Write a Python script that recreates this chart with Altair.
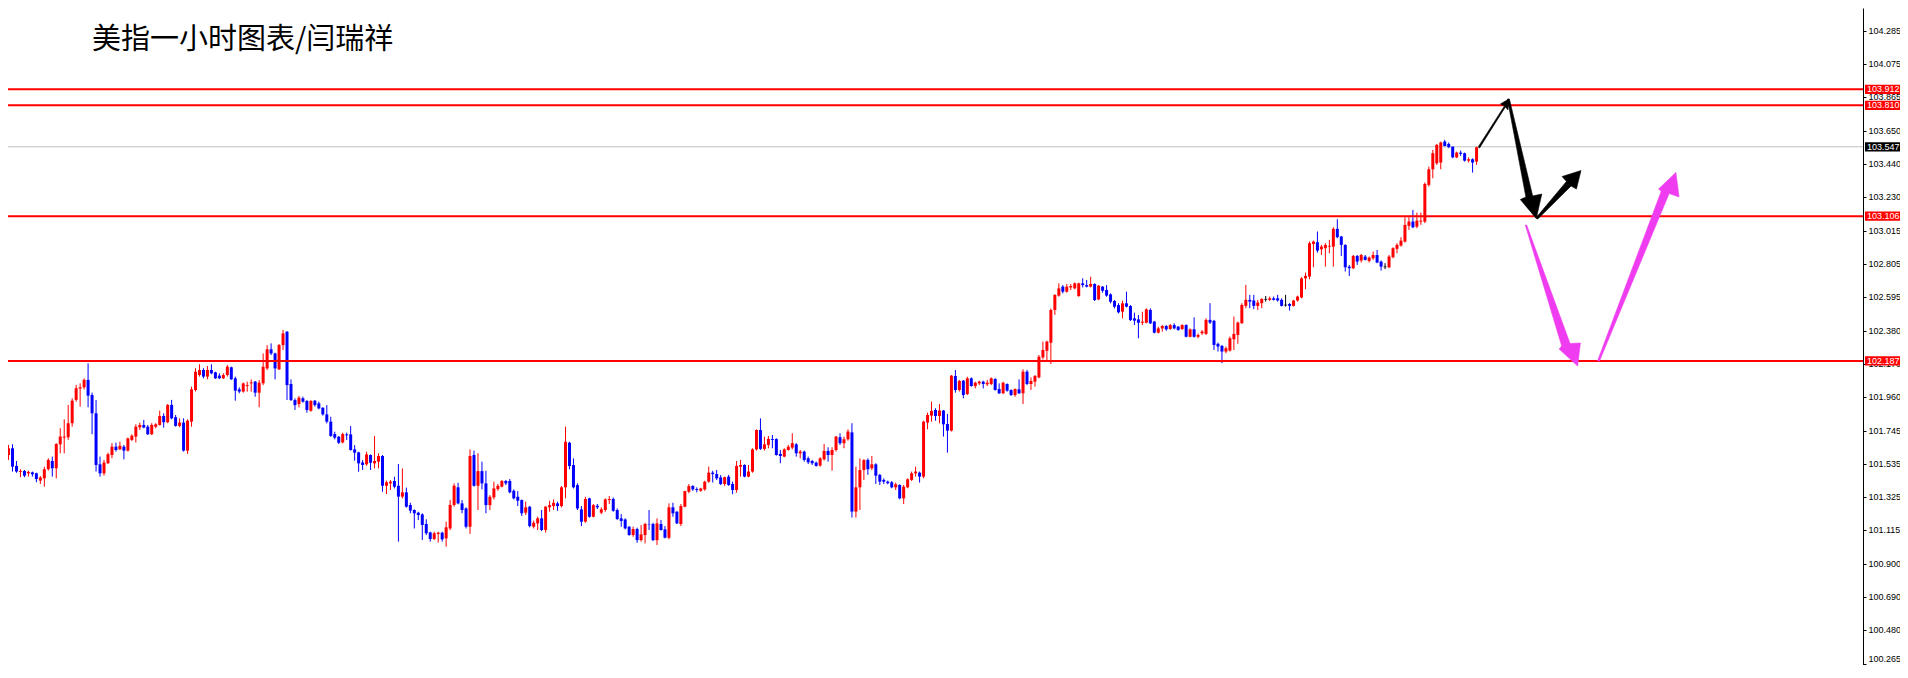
import altair as alt
import pandas as pd

# ---------------- candle data (hourly OHLC) ----------------
OPEN = [
    101.590, 101.633, 101.521, 101.483, 101.489, 101.474, 101.480, 101.474, 101.428, 101.442,
    101.500, 101.552, 101.506, 101.658, 101.701, 101.703, 101.792, 101.940, 102.012, 102.020,
    102.067, 101.971, 101.855, 101.531, 101.474, 101.538, 101.590, 101.643, 101.626, 101.643,
    101.618, 101.686, 101.707, 101.766, 101.781, 101.770, 101.722, 101.770, 101.781, 101.838,
    101.798, 101.908, 101.830, 101.775, 101.796, 101.618, 101.802, 102.003, 102.098, 102.130,
    102.088, 102.130, 102.115, 102.094, 102.077, 102.098, 102.147, 102.077, 102.007, 101.993,
    102.028, 102.045, 102.056, 101.986, 102.045, 102.140, 102.261, 102.235, 102.134, 102.288,
    102.373, 102.041, 101.939, 101.914, 101.950, 101.933, 101.871, 101.935, 101.918, 101.890,
    101.848, 101.802, 101.723, 101.706, 101.670, 101.721, 101.721, 101.626, 101.607, 101.543,
    101.531, 101.590, 101.537, 101.548, 101.584, 101.395, 101.410, 101.425, 101.395, 101.326,
    101.353, 101.273, 101.241, 101.224, 101.213, 101.152, 101.099, 101.057, 101.089, 101.097,
    101.061, 101.124, 101.273, 101.385, 101.283, 101.251, 101.135, 101.590, 101.395, 101.488,
    101.410, 101.272, 101.321, 101.374, 101.389, 101.425, 101.425, 101.363, 101.325, 101.304,
    101.224, 101.262, 101.135, 101.156, 101.188, 101.114, 101.258, 101.266, 101.283, 101.266,
    101.385, 101.668, 101.526, 101.399, 101.245, 101.167, 101.315, 101.198, 101.268, 101.224,
    101.241, 101.304, 101.311, 101.241, 101.188, 101.181, 101.135, 101.082, 101.120, 101.050,
    101.082, 101.152, 101.152, 101.050, 101.152, 101.118, 101.065, 101.258, 101.230, 101.152,
    101.262, 101.357, 101.393, 101.374, 101.363, 101.372, 101.421, 101.478, 101.469, 101.448,
    101.406, 101.453, 101.406, 101.368, 101.516, 101.527, 101.453, 101.485, 101.626, 101.749,
    101.629, 101.654, 101.692, 101.692, 101.597, 101.580, 101.622, 101.637, 101.658, 101.601,
    101.612, 101.569, 101.552, 101.542, 101.523, 101.563, 101.616, 101.590, 101.622, 101.703,
    101.665, 101.690, 101.734, 101.231, 101.385, 101.495, 101.559, 101.506, 101.531, 101.464,
    101.432, 101.421, 101.417, 101.385, 101.400, 101.315, 101.385, 101.432, 101.474, 101.478,
    101.453, 101.796, 101.840, 101.876, 101.838, 101.872, 101.787, 101.745, 102.092, 102.003,
    102.062, 101.977, 102.077, 102.028, 102.045, 102.056, 102.039, 102.041, 102.073, 102.009,
    101.982, 102.041, 102.003, 101.971, 102.007, 101.982, 102.119, 102.041, 102.056, 102.083,
    102.210, 102.252, 102.303, 102.511, 102.602, 102.659, 102.627, 102.654, 102.648, 102.599,
    102.680, 102.669, 102.659, 102.676, 102.578, 102.659, 102.638, 102.610, 102.568, 102.542,
    102.500, 102.553, 102.536, 102.458, 102.451, 102.430, 102.430, 102.511, 102.437, 102.367,
    102.394, 102.409, 102.390, 102.415, 102.405, 102.390, 102.415, 102.341, 102.388, 102.341,
    102.363, 102.359, 102.448, 102.442, 102.296, 102.283, 102.247, 102.253, 102.325, 102.353,
    102.427, 102.537, 102.575, 102.571, 102.537, 102.554, 102.578, 102.575, 102.585, 102.585,
    102.575, 102.542, 102.549, 102.537, 102.571, 102.590, 102.712, 102.723, 102.930, 102.941,
    102.896, 102.903, 102.913, 102.913, 103.026, 102.977, 102.924, 102.786, 102.776, 102.854,
    102.825, 102.850, 102.822, 102.839, 102.860, 102.818, 102.785, 102.782, 102.846, 102.899,
    102.920, 102.945, 103.045, 103.072, 103.040, 103.072, 103.072, 103.305, 103.404, 103.442,
    103.447, 103.580, 103.565, 103.548, 103.480, 103.510, 103.506, 103.459, 103.468, 103.453,
]
HIGH = [
    101.654, 101.658, 101.552, 101.500, 101.495, 101.491, 101.485, 101.478, 101.457, 101.516,
    101.569, 101.580, 101.665, 101.760, 101.817, 101.908, 101.950, 102.035, 102.045, 102.077,
    102.172, 101.986, 101.940, 101.580, 101.559, 101.605, 101.665, 101.669, 101.675, 101.654,
    101.701, 101.722, 101.785, 101.796, 101.813, 101.781, 101.792, 101.792, 101.872, 101.855,
    101.914, 101.940, 101.844, 101.823, 101.823, 101.817, 102.024, 102.141, 102.166, 102.141,
    102.155, 102.166, 102.119, 102.109, 102.109, 102.162, 102.151, 102.088, 102.020, 102.050,
    102.056, 102.070, 102.060, 102.066, 102.235, 102.288, 102.299, 102.240, 102.295, 102.384,
    102.377, 102.070, 101.950, 101.965, 101.960, 101.939, 101.939, 101.939, 101.929, 101.893,
    101.907, 101.833, 101.738, 101.711, 101.732, 101.732, 101.774, 101.653, 101.611, 101.558,
    101.611, 101.594, 101.711, 101.601, 101.590, 101.427, 101.431, 101.452, 101.533, 101.505,
    101.383, 101.287, 101.245, 101.230, 101.220, 101.182, 101.103, 101.103, 101.103, 101.103,
    101.167, 101.304, 101.410, 101.414, 101.304, 101.258, 101.626, 101.618, 101.601, 101.548,
    101.490, 101.336, 101.421, 101.406, 101.431, 101.431, 101.438, 101.372, 101.361, 101.308,
    101.294, 101.266, 101.173, 101.198, 101.241, 101.266, 101.300, 101.308, 101.294, 101.393,
    101.770, 101.674, 101.569, 101.410, 101.266, 101.325, 101.319, 101.279, 101.279, 101.258,
    101.315, 101.330, 101.321, 101.251, 101.215, 101.188, 101.139, 101.135, 101.129, 101.145,
    101.160, 101.241, 101.160, 101.188, 101.177, 101.139, 101.283, 101.287, 101.234, 101.279,
    101.363, 101.406, 101.399, 101.385, 101.382, 101.427, 101.516, 101.490, 101.495, 101.463,
    101.453, 101.464, 101.421, 101.552, 101.559, 101.531, 101.527, 101.633, 101.753, 101.823,
    101.707, 101.711, 101.717, 101.696, 101.622, 101.633, 101.654, 101.728, 101.665, 101.622,
    101.618, 101.580, 101.559, 101.548, 101.576, 101.660, 101.639, 101.639, 101.711, 101.728,
    101.707, 101.753, 101.792, 101.516, 101.569, 101.563, 101.569, 101.584, 101.538, 101.470,
    101.442, 101.428, 101.425, 101.415, 101.404, 101.400, 101.442, 101.485, 101.516, 101.485,
    101.808, 101.859, 101.929, 101.887, 101.914, 101.876, 101.851, 102.098, 102.130, 102.067,
    102.066, 102.087, 102.083, 102.056, 102.062, 102.062, 102.066, 102.083, 102.077, 102.045,
    102.056, 102.045, 102.007, 102.013, 102.070, 102.134, 102.130, 102.083, 102.098, 102.225,
    102.310, 102.316, 102.521, 102.612, 102.680, 102.669, 102.676, 102.676, 102.686, 102.684,
    102.712, 102.701, 102.722, 102.680, 102.669, 102.663, 102.669, 102.616, 102.574, 102.553,
    102.570, 102.627, 102.542, 102.494, 102.479, 102.500, 102.521, 102.521, 102.441, 102.405,
    102.415, 102.415, 102.422, 102.426, 102.409, 102.420, 102.420, 102.394, 102.464, 102.362,
    102.384, 102.458, 102.554, 102.448, 102.304, 102.289, 102.279, 102.342, 102.469, 102.437,
    102.554, 102.670, 102.607, 102.607, 102.575, 102.585, 102.600, 102.596, 102.596, 102.607,
    102.585, 102.607, 102.554, 102.575, 102.602, 102.719, 102.748, 102.945, 102.951, 103.009,
    102.924, 102.935, 102.956, 103.036, 103.087, 102.981, 102.928, 102.797, 102.860, 102.860,
    102.867, 102.860, 102.850, 102.882, 102.892, 102.825, 102.808, 102.860, 102.909, 102.935,
    102.973, 103.100, 103.100, 103.146, 103.129, 103.129, 103.320, 103.421, 103.527, 103.565,
    103.580, 103.591, 103.574, 103.552, 103.516, 103.523, 103.510, 103.480, 103.474, 103.552,
]
LOW = [
    101.559, 101.485, 101.478, 101.449, 101.449, 101.453, 101.453, 101.417, 101.406, 101.389,
    101.491, 101.453, 101.442, 101.601, 101.601, 101.686, 101.770, 101.929, 101.897, 102.007,
    101.893, 101.722, 101.485, 101.453, 101.459, 101.533, 101.569, 101.612, 101.622, 101.563,
    101.612, 101.679, 101.669, 101.749, 101.760, 101.717, 101.717, 101.760, 101.777, 101.764,
    101.792, 101.817, 101.770, 101.766, 101.612, 101.597, 101.770, 101.993, 102.088, 102.077,
    102.071, 102.103, 102.073, 102.073, 102.073, 102.088, 102.067, 101.935, 101.982, 101.986,
    101.992, 101.992, 101.960, 101.893, 102.034, 102.130, 102.225, 102.070, 102.130, 102.257,
    101.939, 101.933, 101.876, 101.893, 101.922, 101.859, 101.865, 101.897, 101.880, 101.840,
    101.791, 101.706, 101.689, 101.660, 101.664, 101.685, 101.618, 101.554, 101.484, 101.495,
    101.522, 101.495, 101.505, 101.505, 101.357, 101.342, 101.368, 101.378, 101.040, 101.315,
    101.256, 101.220, 101.124, 101.177, 101.050, 101.082, 101.040, 101.050, 101.034, 101.040,
    101.008, 101.114, 101.262, 101.277, 101.220, 101.124, 101.089, 101.389, 101.241, 101.372,
    101.220, 101.241, 101.308, 101.363, 101.385, 101.399, 101.347, 101.308, 101.266, 101.203,
    101.209, 101.131, 101.124, 101.114, 101.107, 101.097, 101.230, 101.241, 101.236, 101.258,
    101.315, 101.499, 101.378, 101.241, 101.139, 101.160, 101.192, 101.194, 101.247, 101.215,
    101.230, 101.279, 101.230, 101.177, 101.135, 101.118, 101.078, 101.071, 101.033, 101.040,
    101.029, 101.114, 101.044, 101.019, 101.110, 101.061, 101.055, 101.198, 101.152, 101.139,
    101.258, 101.347, 101.363, 101.353, 101.357, 101.363, 101.414, 101.416, 101.431, 101.399,
    101.394, 101.394, 101.341, 101.351, 101.453, 101.449, 101.449, 101.478, 101.618, 101.622,
    101.618, 101.633, 101.633, 101.586, 101.538, 101.576, 101.618, 101.626, 101.580, 101.569,
    101.548, 101.533, 101.527, 101.516, 101.516, 101.555, 101.548, 101.491, 101.612, 101.654,
    101.633, 101.681, 101.193, 101.193, 101.241, 101.432, 101.464, 101.495, 101.406, 101.400,
    101.406, 101.404, 101.379, 101.368, 101.309, 101.279, 101.379, 101.425, 101.453, 101.415,
    101.442, 101.753, 101.802, 101.808, 101.792, 101.707, 101.605, 101.739, 101.986, 101.993,
    101.950, 101.971, 102.024, 102.013, 102.034, 102.013, 102.028, 102.034, 101.999, 101.977,
    101.977, 101.992, 101.965, 101.960, 101.977, 101.914, 102.034, 102.003, 102.024, 102.077,
    102.197, 102.183, 102.168, 102.479, 102.595, 102.616, 102.621, 102.638, 102.642, 102.595,
    102.654, 102.654, 102.654, 102.568, 102.574, 102.621, 102.595, 102.553, 102.521, 102.489,
    102.458, 102.528, 102.441, 102.415, 102.331, 102.415, 102.426, 102.422, 102.362, 102.362,
    102.373, 102.379, 102.384, 102.388, 102.379, 102.384, 102.337, 102.337, 102.335, 102.331,
    102.353, 102.353, 102.422, 102.257, 102.247, 102.173, 102.236, 102.247, 102.257, 102.296,
    102.422, 102.522, 102.522, 102.516, 102.511, 102.522, 102.564, 102.568, 102.571, 102.564,
    102.533, 102.533, 102.507, 102.533, 102.564, 102.585, 102.643, 102.706, 102.782, 102.875,
    102.860, 102.786, 102.871, 102.786, 102.966, 102.854, 102.755, 102.727, 102.770, 102.797,
    102.812, 102.825, 102.812, 102.829, 102.808, 102.761, 102.770, 102.776, 102.839, 102.871,
    102.913, 102.939, 103.019, 103.030, 103.030, 103.051, 103.062, 103.294, 103.347, 103.432,
    103.404, 103.544, 103.538, 103.474, 103.474, 103.489, 103.453, 103.447, 103.383, 103.432,
]
CLOSE = [
    101.633, 101.516, 101.485, 101.489, 101.459, 101.483, 101.468, 101.438, 101.447, 101.500,
    101.559, 101.506, 101.660, 101.707, 101.707, 101.792, 101.935, 102.014, 102.020, 102.067,
    101.967, 101.855, 101.527, 101.474, 101.542, 101.595, 101.643, 101.622, 101.648, 101.618,
    101.696, 101.713, 101.770, 101.781, 101.764, 101.722, 101.781, 101.785, 101.838, 101.798,
    101.908, 101.823, 101.775, 101.796, 101.618, 101.808, 102.007, 102.119, 102.130, 102.088,
    102.130, 102.109, 102.077, 102.077, 102.098, 102.151, 102.071, 101.999, 101.993, 102.045,
    102.034, 102.051, 101.986, 102.049, 102.151, 102.261, 102.235, 102.140, 102.288, 102.362,
    102.034, 101.939, 101.907, 101.954, 101.929, 101.876, 101.933, 101.907, 101.886, 101.848,
    101.802, 101.711, 101.700, 101.668, 101.723, 101.715, 101.622, 101.605, 101.537, 101.527,
    101.594, 101.541, 101.552, 101.584, 101.395, 101.417, 101.421, 101.389, 101.326, 101.353,
    101.262, 101.237, 101.220, 101.209, 101.146, 101.093, 101.057, 101.093, 101.097, 101.055,
    101.131, 101.273, 101.395, 101.283, 101.241, 101.135, 101.584, 101.395, 101.488, 101.410,
    101.272, 101.325, 101.378, 101.395, 101.425, 101.410, 101.353, 101.315, 101.300, 101.220,
    101.258, 101.139, 101.160, 101.188, 101.114, 101.262, 101.272, 101.287, 101.266, 101.385,
    101.674, 101.520, 101.385, 101.251, 101.167, 101.311, 101.198, 101.272, 101.258, 101.245,
    101.308, 101.311, 101.236, 101.184, 101.171, 101.124, 101.082, 101.120, 101.050, 101.086,
    101.152, 101.150, 101.050, 101.156, 101.114, 101.065, 101.258, 101.220, 101.156, 101.266,
    101.361, 101.393, 101.372, 101.368, 101.378, 101.421, 101.478, 101.469, 101.442, 101.406,
    101.449, 101.400, 101.368, 101.521, 101.527, 101.453, 101.485, 101.626, 101.749, 101.629,
    101.658, 101.692, 101.686, 101.590, 101.584, 101.626, 101.643, 101.665, 101.601, 101.612,
    101.559, 101.544, 101.538, 101.521, 101.569, 101.616, 101.590, 101.622, 101.707, 101.665,
    101.690, 101.739, 101.231, 101.385, 101.495, 101.559, 101.500, 101.531, 101.459, 101.421,
    101.421, 101.411, 101.385, 101.404, 101.315, 101.389, 101.436, 101.474, 101.485, 101.453,
    101.802, 101.844, 101.870, 101.838, 101.872, 101.785, 101.745, 102.094, 102.003, 102.060,
    101.971, 102.077, 102.028, 102.049, 102.056, 102.041, 102.049, 102.077, 102.003, 101.982,
    102.049, 101.999, 101.971, 102.009, 101.982, 102.119, 102.041, 102.060, 102.092, 102.214,
    102.257, 102.310, 102.511, 102.606, 102.648, 102.627, 102.659, 102.663, 102.680, 102.680,
    102.669, 102.659, 102.676, 102.574, 102.665, 102.633, 102.602, 102.563, 102.532, 102.496,
    102.553, 102.532, 102.447, 102.443, 102.430, 102.437, 102.515, 102.426, 102.367, 102.394,
    102.409, 102.388, 102.415, 102.394, 102.384, 102.415, 102.341, 102.388, 102.341, 102.352,
    102.374, 102.448, 102.431, 102.289, 102.279, 102.247, 102.268, 102.331, 102.359, 102.431,
    102.543, 102.575, 102.564, 102.537, 102.558, 102.581, 102.578, 102.585, 102.575, 102.571,
    102.537, 102.542, 102.537, 102.571, 102.596, 102.712, 102.727, 102.935, 102.945, 102.888,
    102.913, 102.924, 102.918, 103.026, 102.973, 102.924, 102.782, 102.776, 102.854, 102.818,
    102.860, 102.829, 102.844, 102.860, 102.812, 102.786, 102.785, 102.850, 102.903, 102.924,
    102.951, 103.051, 103.072, 103.036, 103.078, 103.078, 103.311, 103.404, 103.506, 103.559,
    103.574, 103.552, 103.544, 103.480, 103.510, 103.502, 103.459, 103.468, 103.447, 103.544,
]

# ---------------- levels, axis and annotations ----------------
RED_LEVELS = [103.912, 103.810, 103.106, 102.187]
BID_LEVEL = [103.547]
AXIS_TICKS = [104.285, 104.075, 103.865, 103.650, 103.440, 103.230, 103.015,
              102.805, 102.595, 102.380, 102.170, 101.960, 101.745, 101.535,
              101.325, 101.115, 100.900, 100.690, 100.480, 100.265]
TITLE = "美指一小时图表/闫瑞祥"

# hand-drawn arrows: polygon vertices in (bar index, price)
ARROW_ID = ["A1"] * 7 + ["A2"] * 7 + ["A3"] * 7 + ["M1"] * 7 + ["M2"] * 7
ARROW_KIND = ["black"] * 21 + ["magenta"] * 14
ARROW_X = [369.40, 376.00, 375.00, 377.10, 376.90, 376.25, 369.75,
           376.75, 381.40, 380.00, 384.00, 385.40, 383.10, 377.25,
           383.90, 391.60, 390.50, 395.25, 394.10, 392.75, 384.40,
           381.25, 390.40, 389.75, 394.40, 395.10, 392.50, 381.60,
           399.40, 415.40, 414.75, 419.10, 419.90, 417.40, 399.90]
ARROW_P = [103.546, 103.806, 103.819, 103.850, 103.781, 103.800, 103.539,
           103.850, 103.228, 103.212, 103.092, 103.247, 103.235, 103.850,
           103.095, 103.327, 103.358, 103.396, 103.279, 103.298, 103.089,
           103.050, 102.282, 102.263, 102.155, 102.301, 102.298, 103.050,
           102.187, 103.263, 103.279, 103.384, 103.228, 103.250, 102.187]

W, H = 1855, 657

n = len(OPEN)
candles = pd.DataFrame({"i": list(range(n)), "o": OPEN, "h": HIGH, "l": LOW, "c": CLOSE})
candles["dir"] = ["up" if c > o else ("down" if c < o else "flat") for o, c in zip(OPEN, CLOSE)]

arrows = pd.DataFrame({"aid": ARROW_ID, "kind": ARROW_KIND, "k": list(range(len(ARROW_ID))),
                       "x": ARROW_X, "p": ARROW_P})
levels = pd.DataFrame({"p": RED_LEVELS})
bid = pd.DataFrame({"p": BID_LEVEL})
title_df = pd.DataFrame({"t": [TITLE]})

xs = alt.Scale(domain=[1.125, 464.875], nice=False, zero=False)
ys = alt.Scale(domain=[100.257, 104.428], nice=False, zero=False)
col = alt.Color("dir:N", scale=alt.Scale(domain=["up", "down", "flat"],
                                         range=["#ff0000", "#0000ff", "#000000"]), legend=None)

yaxis = alt.Axis(orient="right", values=AXIS_TICKS, format=".3f", title=None, grid=False,
                 labelFont="Liberation Sans", labelFontSize=9, labelColor="#000000",
                 labelBaseline={"condition": {"test": "datum.value < 100.3", "value": "bottom"},
                                "value": "middle"},
                 tickColor="#000000", tickSize=3, labelPadding=2, domainColor="#000000",
                 domainWidth=1, labelOverlap=False, labelFlush=False)


def Y(field):
    return alt.Y(field, scale=ys, axis=yaxis)


X = alt.X("i:Q", scale=xs, axis=None)

wick = alt.Chart(candles).mark_rule(strokeWidth=1, clip=True).encode(
    x=X, y=Y("l:Q"), y2="h:Q", color=col)
body = alt.Chart(candles).mark_bar(size=3, clip=True).encode(
    x=X, y=Y("o:Q"), y2="c:Q", color=col)
flat = alt.Chart(candles).transform_filter("datum.dir == 'flat'").mark_tick(
    orient="horizontal", size=3, thickness=1, clip=True).encode(
    x=X, y=Y("c:Q"), color=col)

red_lines = alt.Chart(levels).mark_rule(color="#ff0000", strokeWidth=2).encode(y=Y("p:Q"))
bid_line = alt.Chart(bid).mark_rule(color="#c0c0c0", strokeWidth=1).encode(y=Y("p:Q"))


def arrow_layer(kind, colour):
    return alt.Chart(arrows).transform_filter(f"datum.kind == '{kind}'").mark_line(
        interpolate="linear-closed", fill=colour, stroke=colour, strokeWidth=0.6, clip=True
    ).encode(x=alt.X("x:Q", scale=xs, axis=None), y=Y("p:Q"),
             detail="aid:N", order="k:Q")


black_arrows = arrow_layer("black", "#000000")
magenta_arrows = arrow_layer("magenta", "#f03cf0")

BOX = "M-1,-0.22H1V0.22H-1Z"
red_boxes = alt.Chart(levels).mark_point(shape=BOX, size=1764, filled=True, opacity=1,
                                         color="#ff0000", strokeWidth=0).encode(
    x=alt.value(W + 23), y=Y("p:Q"))
bid_box = alt.Chart(bid).mark_point(shape=BOX, size=1764, filled=True, opacity=1,
                                    color="#000000", strokeWidth=0).encode(
    x=alt.value(W + 23), y=Y("p:Q"))
box_text = alt.Chart(pd.concat([levels, bid])).mark_text(
    align="left", baseline="middle", font="Liberation Sans", fontSize=9, color="#ffffff").encode(
    x=alt.value(W + 4), y=Y("p:Q"), text=alt.Text("p:Q", format=".3f"))

title = alt.Chart(title_df).mark_text(align="left", baseline="middle", font="Noto Sans CJK SC",
                                      fontSize=29, color="#000000").encode(
    x=alt.value(84), y=alt.value(32), text="t:N")

chart = alt.layer(
    wick, bid_line, body, flat, red_lines, black_arrows, magenta_arrows,
    red_boxes, bid_box, box_text, title
).properties(
    width=W, height=H,
    autosize=alt.AutoSizeParams(type="none"),
    padding={"left": 0, "top": 0, "right": 37, "bottom": 0},
    background="#ffffff",
).configure_view(strokeWidth=0)

chart.save("out.html", embed_options={"renderer": "svg", "actions": False})
